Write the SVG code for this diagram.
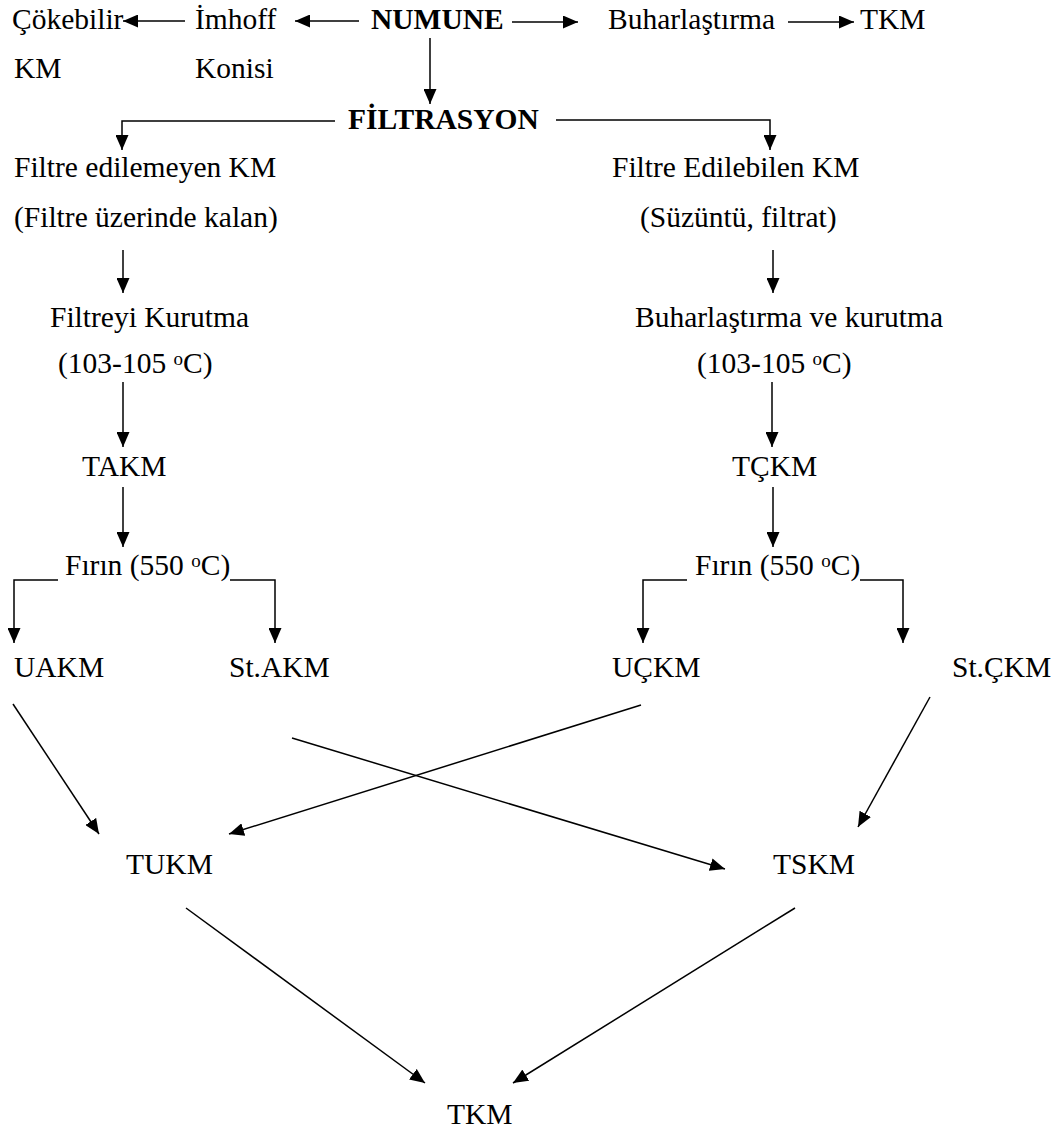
<svg xmlns="http://www.w3.org/2000/svg" width="1053" height="1133" viewBox="0 0 1053 1133">
<style>
text{font-family:"Liberation Serif","Times New Roman",serif;font-size:29.5px;fill:#000}
.b{font-weight:bold}
.c{fill:none;stroke:#000;stroke-width:1.5}
</style>
<defs>
<marker id="ah" markerUnits="userSpaceOnUse" markerWidth="15" markerHeight="13" refX="15" refY="6.5" orient="auto">
<path d="M0,0 L15,6.5 L0,13 z" fill="#000"/>
</marker>
</defs>
<rect width="1053" height="1133" fill="#fff"/>
<g id="connectors">
<line class="c" x1="185" y1="21" x2="123" y2="21" marker-end="url(#ah)"/>
<line class="c" x1="359" y1="21" x2="295" y2="21" marker-end="url(#ah)"/>
<line class="c" x1="512" y1="22" x2="578" y2="22" marker-end="url(#ah)"/>
<line class="c" x1="788" y1="22" x2="854" y2="22" marker-end="url(#ah)"/>
<line class="c" x1="430" y1="38" x2="430" y2="104" marker-end="url(#ah)"/>
<polyline class="c" points="335,121 122,121 122,150" marker-end="url(#ah)"/>
<polyline class="c" points="556,120 770,120 770,150" marker-end="url(#ah)"/>
<line class="c" x1="123" y1="250" x2="123" y2="293" marker-end="url(#ah)"/>
<line class="c" x1="773" y1="250" x2="773" y2="293" marker-end="url(#ah)"/>
<line class="c" x1="123" y1="382" x2="123" y2="447" marker-end="url(#ah)"/>
<line class="c" x1="772" y1="382" x2="772" y2="447" marker-end="url(#ah)"/>
<line class="c" x1="123" y1="487" x2="123" y2="547" marker-end="url(#ah)"/>
<line class="c" x1="773" y1="487" x2="773" y2="547" marker-end="url(#ah)"/>
<polyline class="c" points="58,580 14,580 14,643" marker-end="url(#ah)"/>
<polyline class="c" points="230,580 275,580 275,643" marker-end="url(#ah)"/>
<polyline class="c" points="687,580 643,580 643,643" marker-end="url(#ah)"/>
<polyline class="c" points="860,580 903,580 903,643" marker-end="url(#ah)"/>
<line class="c" x1="13" y1="704" x2="99" y2="834" marker-end="url(#ah)"/>
<line class="c" x1="641" y1="705" x2="229" y2="834" marker-end="url(#ah)"/>
<line class="c" x1="292" y1="738" x2="725" y2="869" marker-end="url(#ah)"/>
<line class="c" x1="930" y1="697" x2="858" y2="827" marker-end="url(#ah)"/>
<line class="c" x1="186" y1="908" x2="425" y2="1083" marker-end="url(#ah)"/>
<line class="c" x1="795" y1="908" x2="513" y2="1083" marker-end="url(#ah)"/>
</g>
<g id="cokebilir"><text x="12" y="29">Çökebilir</text><text x="14" y="78">KM</text></g>
<g id="imhoff"><text x="195" y="29">İmhoff</text><text x="195" y="78">Konisi</text></g>
<g id="numune"><text class="b" x="371" y="29">NUMUNE</text></g>
<g id="buharlastirma"><text x="608" y="29">Buharlaştırma</text></g>
<g id="tkm-top"><text x="860" y="29">TKM</text></g>
<g id="filtrasyon"><text class="b" x="348" y="129">FİLTRASYON</text></g>
<g id="filtre-edilemeyen"><text x="14" y="177">Filtre edilemeyen KM</text><text x="14" y="227">(Filtre üzerinde kalan)</text></g>
<g id="filtre-edilebilen"><text x="612" y="177">Filtre Edilebilen KM</text><text x="640" y="227">(Süzüntü, filtrat)</text></g>
<g id="filtreyi-kurutma"><text x="50" y="327">Filtreyi Kurutma</text><text x="58" y="373">(103-105 <tspan font-size="19" dy="-8">o</tspan><tspan dy="8">C)</tspan></text></g>
<g id="buharlastirma-kurutma"><text x="635" y="327">Buharlaştırma ve kurutma</text><text x="697" y="373">(103-105 <tspan font-size="19" dy="-8">o</tspan><tspan dy="8">C)</tspan></text></g>
<g id="takm"><text x="82" y="476">TAKM</text></g>
<g id="tckm"><text x="732" y="476">TÇKM</text></g>
<g id="firin-left"><text x="65" y="575">Fırın (550 <tspan font-size="19" dy="-8">o</tspan><tspan dy="8">C)</tspan></text></g>
<g id="firin-right"><text x="695" y="575">Fırın (550 <tspan font-size="19" dy="-8">o</tspan><tspan dy="8">C)</tspan></text></g>
<g id="uakm"><text x="14" y="677">UAKM</text></g>
<g id="stakm"><text x="229" y="677">St.AKM</text></g>
<g id="uckm"><text x="612" y="677">UÇKM</text></g>
<g id="stckm"><text x="952" y="677">St.ÇKM</text></g>
<g id="tukm"><text x="126" y="874">TUKM</text></g>
<g id="tskm"><text x="773" y="874">TSKM</text></g>
<g id="tkm-bottom"><text x="447" y="1124">TKM</text></g>
</svg>
